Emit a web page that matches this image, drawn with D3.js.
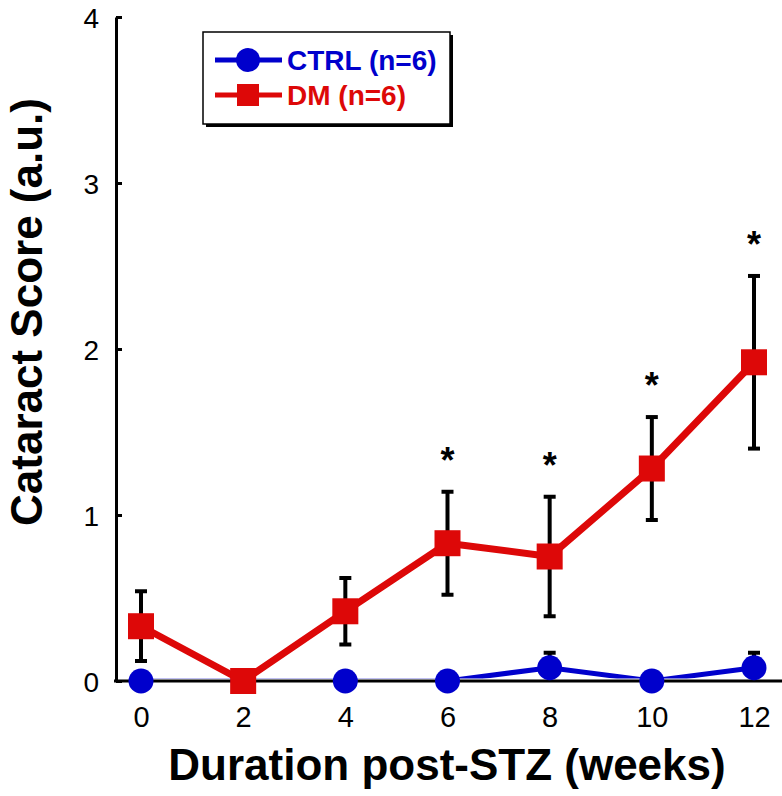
<!DOCTYPE html>
<html>
<head>
<meta charset="utf-8">
<script src="https://d3js.org/d3.v7.min.js"></script>
<style>
  body { margin: 0; background: #fff; }
  text { font-family: "Liberation Sans", Arial, sans-serif; }
</style>
</head>
<body>
<div id="my_dataviz"></div>
<script>
// ---------------------------//
//       DATA                 //
// ---------------------------//
var weeks    = [0, 2, 4, 6, 8, 10, 12];
var dmMean   = [0.33, 0, 0.42, 0.83, 0.75, 1.28, 1.92];
var dmSE     = [0.21, 0, 0.20, 0.31, 0.36, 0.31, 0.52];
var ctrlMean = [0, 0, 0, 0, 0.08, 0, 0.08];
var ctrlSE   = [0, 0, 0, 0, 0.09, 0, 0.09];
var signif   = [false, false, false, true, true, true, true];
var yTicks   = [0, 1, 2, 3, 4];
var legendLabels = ["CTRL (n=6)", "DM (n=6)"];

var blue = "#0000cc", red = "#dd0808";

// the svg covers the whole window
var svg = d3.select("#my_dataviz")
  .append("svg")
    .attr("width", 782)
    .attr("height", 796);

// ---------------------------//
//       AXIS  AND SCALE      //
// ---------------------------//
var x = d3.scaleLinear()
  .domain([0, 12])
  .range([141, 754]);

var y = d3.scaleLinear()
  .domain([0, 4])
  .range([681, 17]);

var ctrl = weeks.map(function(w, i){ return {w: w, m: ctrlMean[i], se: ctrlSE[i]} });
var dm = weeks.map(function(w, i){ return {w: w, m: dmMean[i], se: dmSE[i], s: signif[i]} });

// lines and error bars stay above the x axis
svg.append("clipPath")
  .attr("id", "plotclip")
  .append("rect")
    .attr("x", 0).attr("y", 0)
    .attr("width", 782).attr("height", 678.5);

var plot = svg.append("g").attr("clip-path", "url(#plotclip)");

// ---------------------------//
//       ERROR BARS           //
// ---------------------------//
function errorBars(data) {
  var g = plot.append("g").attr("stroke", "black");
  var d2 = data.filter(function(d){ return d.se > 0 });
  g.selectAll("v").data(d2).enter().append("line")
    .attr("x1", function(d){ return x(d.w) })
    .attr("x2", function(d){ return x(d.w) })
    .attr("y1", function(d){ return y(d.m - d.se) })
    .attr("y2", function(d){ return y(d.m + d.se) })
    .attr("stroke-width", 4);
  g.selectAll("top").data(d2).enter().append("line")
    .attr("x1", function(d){ return x(d.w) - 6 })
    .attr("x2", function(d){ return x(d.w) + 6 })
    .attr("y1", function(d){ return y(d.m + d.se) })
    .attr("y2", function(d){ return y(d.m + d.se) })
    .attr("stroke-width", 4);
  g.selectAll("bot").data(d2).enter().append("line")
    .attr("x1", function(d){ return x(d.w) - 6 })
    .attr("x2", function(d){ return x(d.w) + 6 })
    .attr("y1", function(d){ return y(d.m - d.se) })
    .attr("y2", function(d){ return y(d.m - d.se) })
    .attr("stroke-width", 4);
}
errorBars(ctrl);
errorBars(dm);

// ---------------------------//
//       LINES                //
// ---------------------------//
var line = d3.line()
  .x(function(d){ return x(d.w) })
  .y(function(d){ return y(d.m) });

plot.append("path")
  .datum(ctrl)
  .attr("d", line)
  .attr("fill", "none")
  .attr("stroke", blue)
  .attr("stroke-width", 5);

plot.append("path")
  .datum(dm)
  .attr("d", line)
  .attr("fill", "none")
  .attr("stroke", red)
  .attr("stroke-width", 7)
  .attr("stroke-linejoin", "round");

// ---------------------------//
//       AXES                 //
// ---------------------------//
var yAxis = svg.append("g")
  .attr("transform", "translate(116,0)")
  .call(d3.axisLeft(y).tickValues(yTicks).tickFormat(d3.format("d")).tickSizeInner(-6).tickSizeOuter(0).tickPadding(17));
yAxis.select(".domain").attr("stroke-width", 3);
yAxis.selectAll(".tick line").attr("stroke-width", 3);
yAxis.selectAll(".tick text")
  .style("font-size", "28px")
  .attr("fill", "black")
  .attr("dy", "0.36em");

var xAxis = svg.append("g")
  .attr("transform", "translate(0,681)")
  .call(d3.axisBottom(x).tickValues(weeks).tickFormat(d3.format("d")).tickSizeInner(-6).tickSizeOuter(0));
xAxis.select(".domain").remove();
xAxis.append("line")
  .attr("x1", 114).attr("x2", 782)
  .attr("stroke", "black").attr("stroke-width", 3);
xAxis.selectAll(".tick line").attr("stroke-width", 3);
xAxis.selectAll(".tick text")
  .style("font-size", "29px")
  .attr("fill", "black")
  .attr("y", 46)
  .attr("dy", 0);

// axis titles
svg.append("text")
  .attr("x", 447)
  .attr("y", 780)
  .attr("text-anchor", "middle")
  .style("font-size", "44px")
  .style("font-weight", "bold")
  .text("Duration post-STZ (weeks)");

svg.append("text")
  .attr("transform", "translate(42,312) rotate(-90)")
  .attr("text-anchor", "middle")
  .style("font-size", "44px")
  .style("font-weight", "bold")
  .text("Cataract Score (a.u.)");

// ---------------------------//
//       MARKERS              //
// ---------------------------//
svg.append("g")
  .selectAll("dot")
  .data(ctrl)
  .enter()
  .append("circle")
    .attr("cx", function(d){ return x(d.w) })
    .attr("cy", function(d){ return y(d.m) })
    .attr("r", 12.5)
    .style("fill", blue);

svg.append("g")
  .selectAll("sq")
  .data(dm)
  .enter()
  .append("rect")
    .attr("x", function(d){ return x(d.w) - 13 })
    .attr("y", function(d){ return y(d.m) - 13 })
    .attr("width", 26)
    .attr("height", 26)
    .style("fill", red);

// significance stars
svg.append("g")
  .selectAll("star")
  .data(dm.filter(function(d){ return d.s }))
  .enter()
  .append("text")
    .attr("x", function(d){ return x(d.w) })
    .attr("y", function(d){ return y(d.m + d.se) - 40 + 21 })
    .attr("text-anchor", "middle")
    .style("font-size", "36px")
    .style("font-weight", "bold")
    .text("*");

// ---------------------------//
//       LEGEND               //
// ---------------------------//
var lg = svg.append("g");
lg.append("rect")
  .attr("x", 206).attr("y", 35)
  .attr("width", 247).attr("height", 92)
  .attr("fill", "black");
lg.append("rect")
  .attr("x", 203).attr("y", 32)
  .attr("width", 247).attr("height", 92)
  .attr("fill", "white")
  .attr("stroke", "black")
  .attr("stroke-width", 1.5);

var legendColors = [blue, red];
lg.selectAll("ll")
  .data(legendLabels)
  .enter()
  .append("line")
    .attr("x1", 215).attr("x2", 282)
    .attr("y1", function(d, i){ return 60 + i * 35 })
    .attr("y2", function(d, i){ return 60 + i * 35 })
    .attr("stroke", function(d, i){ return legendColors[i] })
    .attr("stroke-width", 5);
lg.append("circle")
  .attr("cx", 248).attr("cy", 60).attr("r", 12)
  .style("fill", blue);
lg.append("rect")
  .attr("x", 237).attr("y", 84).attr("width", 22).attr("height", 22)
  .style("fill", red);
lg.selectAll("lt")
  .data(legendLabels)
  .enter()
  .append("text")
    .attr("x", 287)
    .attr("y", function(d, i){ return 70 + i * 35 })
    .style("font-size", "28px")
    .style("font-weight", "bold")
    .style("fill", function(d, i){ return legendColors[i] })
    .text(function(d){ return d });
</script>
</body>
</html>
